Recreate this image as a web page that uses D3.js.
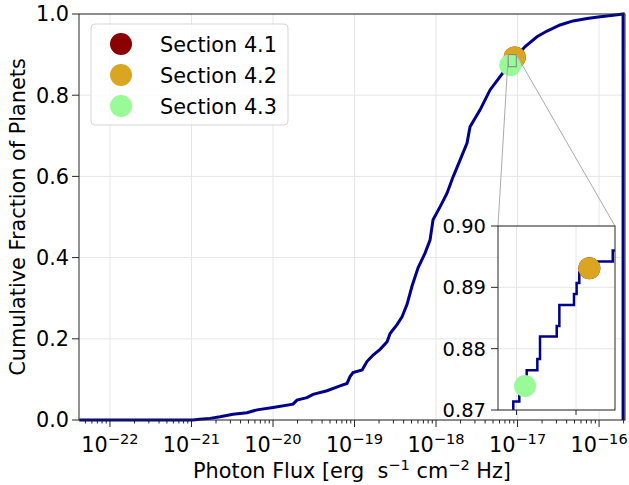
<!DOCTYPE html>
<html>
<head>
<meta charset="utf-8">
<script src="https://cdn.jsdelivr.net/npm/d3@7"></script>
<style>
  body { margin: 0; background: #fff; }
  svg { display: block; font-family: "DejaVu Sans", sans-serif; }
  .grid line { stroke: #e6e6e6; stroke-width: 1; }
  .spine { fill: none; stroke: #262626; stroke-width: 1; }
  .tick-mark { stroke: #262626; stroke-width: 1; }
</style>
</head>
<body>
<div id="chart"></div>
<script>
// cumulative distribution (flux, fraction)
const cdfFlux = [4.2e-23, 1.04e-21, 1.27e-21, 1.69e-21, 2.24e-21, 3.23e-21, 4.80e-21, 6.37e-21,
  1.0e-20, 1.76e-20, 1.97e-20, 2.61e-20, 3.10e-20, 4.60e-20, 6.64e-20, 8.09e-20, 8.81e-20, 9.59e-20,
  1.24e-19, 1.42e-19, 1.69e-19, 2.06e-19, 2.51e-19, 2.73e-19, 3.32e-19, 3.83e-19, 4.41e-19, 5.08e-19,
  6.02e-19, 7.33e-19, 8.44e-19, 9.19e-19, 1.12e-18, 1.36e-18, 1.62e-18, 1.97e-18, 2.40e-18, 2.61e-18,
  3.01e-18, 3.47e-18, 4.60e-18, 6.10e-18, 7.03e-18,
  1.24e-17, 1.73e-17, 2.30e-17, 3.32e-17, 4.80e-17, 7.13e-17, 1.03e-16, 1.49e-16, 1.97e-16, 1.97e-16];
const cdfFrac = [0, 0, 0.002, 0.004, 0.008, 0.014, 0.018, 0.025,
  0.031, 0.039, 0.049, 0.055, 0.063, 0.072, 0.084, 0.090, 0.107, 0.117,
  0.123, 0.144, 0.160, 0.174, 0.193, 0.213, 0.235, 0.254, 0.285, 0.330,
  0.375, 0.411, 0.443, 0.493, 0.525, 0.558, 0.599, 0.640, 0.682, 0.722,
  0.743, 0.764, 0.813, 0.846, 0.862,
  0.920, 0.944, 0.958, 0.973, 0.983, 0.989, 0.993, 0.997, 1.0, 0];

// steps inside the zoomed window
const zoomFlux = [7.60e-18, 7.946e-18, 8.047e-18, 8.10e-18, 8.171e-18, 8.35e-18, 8.395e-18, 8.676e-18,
  8.72e-18, 8.966e-18, 9.01e-18, 9.055e-18, 9.22e-18, 9.617e-18, 9.70e-18];
const zoomFrac = [0.8697, 0.8714, 0.8731, 0.8748, 0.8765, 0.8783, 0.8820, 0.8837,
  0.8871, 0.8889, 0.8907, 0.8924, 0.8942, 0.8960, 0.8960];

const sections = ['Section 4.1', 'Section 4.2', 'Section 4.3'];
const sectionFlux = [9.224e-18, 9.224e-18, 8.143e-18];
const sectionFrac = [0.8931, 0.8931, 0.8739];

const xTickExp = [-22, -21, -20, -19, -18, -17, -16];
const yTicks = [0, 0.2, 0.4, 0.6, 0.8, 1.0];
const zoomXTicks = [8e-18, 9e-18];
const zoomYTicks = [0.87, 0.88, 0.89, 0.90];

const colors = ['#8b0000', '#daa520', '#98fb98'];
const lineColor = '#00008b';

const W = 629, H = 485;
const plot = {left: 79, right: 625, top: 14, bottom: 420};
const inset = {left: 498, right: 615, top: 226, bottom: 410};
const xDomain = [4.17e-23, 2.08e-16];
const zoomXDomain = [7.689e-18, 9.655e-18];
const zoomYDomain = [0.87, 0.90];

const svg = d3.select('#chart').append('svg')
    .attr('width', W)
    .attr('height', H);

let x = d3.scaleLog().domain(xDomain).range([plot.left, plot.right]);
let y = d3.scaleLinear().domain([0, 1]).range([plot.bottom, plot.top]);

// grid
let grid = svg.append('g').attr('class', 'grid');
grid.selectAll('.gx').data(xTickExp).enter().append('line')
    .attr('x1', d => x(Math.pow(10, d))).attr('x2', d => x(Math.pow(10, d)))
    .attr('y1', plot.top).attr('y2', plot.bottom);
grid.selectAll('.gy').data(yTicks).enter().append('line')
    .attr('x1', plot.left).attr('x2', plot.right)
    .attr('y1', d => y(d)).attr('y2', d => y(d));

// x ticks (major + minor)
let minor = [];
for (let e = -23; e <= -16; e++) {
  for (let m = 2; m <= 9; m++) {
    let v = m * Math.pow(10, e);
    if (v > xDomain[0] && v < xDomain[1]) minor.push(v);
  }
}
let axes = svg.append('g');
axes.selectAll('.minor').data(minor).enter().append('line')
    .attr('class', 'tick-mark')
    .attr('stroke-width', 0.8)
    .attr('x1', d => x(d)).attr('x2', d => x(d))
    .attr('y1', plot.bottom).attr('y2', plot.bottom + 3.5);
axes.selectAll('.major').data(xTickExp).enter().append('line')
    .attr('class', 'tick-mark')
    .attr('x1', d => x(Math.pow(10, d))).attr('x2', d => x(Math.pow(10, d)))
    .attr('y1', plot.bottom).attr('y2', plot.bottom + 7);

let xLabels = axes.selectAll('.xl').data(xTickExp).enter().append('text')
    .attr('x', d => x(Math.pow(10, d)))
    .attr('y', 452)
    .attr('text-anchor', 'middle')
    .style('font-size', '20.8px');
xLabels.append('tspan').text('10');
xLabels.append('tspan').attr('dy', -8).style('font-size', '14.6px')
    .text(d => '\u2212' + Math.abs(d));

axes.selectAll('.ytm').data(yTicks).enter().append('line')
    .attr('class', 'tick-mark')
    .attr('x1', plot.left - 7).attr('x2', plot.left)
    .attr('y1', d => y(d)).attr('y2', d => y(d));
axes.selectAll('.yl').data(yTicks).enter().append('text')
    .attr('x', plot.left - 10)
    .attr('y', d => y(d))
    .attr('dy', '0.36em')
    .attr('text-anchor', 'end')
    .style('font-size', '20.8px')
    .text(d => d.toFixed(1));

// axis titles
let xTitle = svg.append('text')
    .attr('x', (plot.left + plot.right) / 2)
    .attr('y', 478)
    .attr('text-anchor', 'middle')
    .style('font-size', '20.8px')
    .style('white-space', 'pre');
xTitle.append('tspan').text('Photon Flux [erg  s');
xTitle.append('tspan').attr('dy', -8).style('font-size', '14.6px').text('\u22121');
xTitle.append('tspan').attr('dy', 8).text(' cm');
xTitle.append('tspan').attr('dy', -8).style('font-size', '14.6px').text('\u22122');
xTitle.append('tspan').attr('dy', 8).text(' Hz]');

svg.append('text')
    .attr('transform', 'translate(25,' + ((plot.top + plot.bottom) / 2) + ') rotate(-90)')
    .attr('text-anchor', 'middle')
    .style('font-size', '20.8px')
    .text('Cumulative Fraction of Planets');

// main curve
let pts = [];
for (let i = 0; i < cdfFlux.length; i++) pts.push([cdfFlux[i], cdfFrac[i]]);
let stepPts = [];
for (let i = 0; i < zoomFlux.length; i++) {
  if (i > 0) stepPts.push([zoomFlux[i], zoomFrac[i - 1]]);
  stepPts.push([zoomFlux[i], zoomFrac[i]]);
}
let cut = pts.findIndex(p => p[0] > zoomFlux[0]);
let mainPts = pts.slice(0, cut).concat(stepPts, pts.slice(cut));

let line = d3.line()
    .x(d => x(d[0]))
    .y(d => y(d[1]));

svg.append('path')
    .datum(mainPts)
    .attr('fill', 'none')
    .attr('stroke', lineColor)
    .attr('stroke-width', 3)
    .attr('stroke-linejoin', 'miter')
    .attr('d', line);

// section points
let marks = sections.map((s, i) => ({name: s, flux: sectionFlux[i], frac: sectionFrac[i], color: colors[i]}));
svg.selectAll('.pt').data(marks).enter().append('circle')
    .attr('cx', d => x(d.flux))
    .attr('cy', d => y(d.frac))
    .attr('r', 11)
    .attr('fill', d => d.color);

// zoom box + connectors
let rx0 = x(zoomXDomain[0]), rx1 = x(zoomXDomain[1]);
let ry0 = y(zoomYDomain[1]), ry1 = y(zoomYDomain[0]);
svg.append('rect')
    .attr('x', rx0).attr('y', ry0)
    .attr('width', rx1 - rx0).attr('height', ry1 - ry0)
    .attr('fill', 'none')
    .attr('stroke', '#808080')
    .attr('stroke-width', 1);
svg.append('line')
    .attr('x1', rx0).attr('y1', ry0).attr('x2', inset.left).attr('y2', inset.top)
    .attr('stroke', '#aaaaaa').attr('stroke-width', 1);
svg.append('line')
    .attr('x1', rx1).attr('y1', ry0).attr('x2', inset.right).attr('y2', inset.top)
    .attr('stroke', '#aaaaaa').attr('stroke-width', 1);

// main frame
svg.append('rect')
    .attr('class', 'spine')
    .attr('x', plot.left).attr('y', plot.top)
    .attr('width', plot.right - plot.left).attr('height', plot.bottom - plot.top);

// legend
let legend = svg.append('g');
legend.append('rect')
    .attr('x', 91).attr('y', 24)
    .attr('width', 197).attr('height', 101)
    .attr('rx', 4)
    .attr('fill', '#fff').attr('fill-opacity', 0.8)
    .attr('stroke', '#d5d5d5');
let items = legend.selectAll('.item').data(marks).enter().append('g')
    .attr('transform', (d, i) => 'translate(121,' + (44 + i * 31) + ')');
items.append('circle').attr('r', 11).attr('fill', d => d.color);
items.append('text')
    .attr('x', 39)
    .attr('dy', '0.36em')
    .style('font-size', '20.8px')
    .text(d => d.name);

// inset
let xi = d3.scaleLinear().domain(zoomXDomain).range([inset.left, inset.right]);
let yi = d3.scaleLinear().domain(zoomYDomain).range([inset.bottom, inset.top]);

let ig = svg.append('g');
ig.append('rect')
    .attr('x', inset.left).attr('y', inset.top)
    .attr('width', inset.right - inset.left).attr('height', inset.bottom - inset.top)
    .attr('fill', '#fff');
svg.append('clipPath').attr('id', 'insetClip').append('rect')
    .attr('x', inset.left).attr('y', inset.top)
    .attr('width', inset.right - inset.left).attr('height', inset.bottom - inset.top);

let igrid = ig.append('g').attr('class', 'grid');
igrid.selectAll('.gx').data(zoomXTicks).enter().append('line')
    .attr('x1', d => xi(d)).attr('x2', d => xi(d))
    .attr('y1', inset.top).attr('y2', inset.bottom);
igrid.selectAll('.gy').data(zoomYTicks).enter().append('line')
    .attr('x1', inset.left).attr('x2', inset.right)
    .attr('y1', d => yi(d)).attr('y2', d => yi(d));

let zoomPts = zoomFlux.map((f, i) => [f, zoomFrac[i]]);
let stepLine = d3.line()
    .x(d => xi(d[0]))
    .y(d => yi(d[1]))
    .curve(d3.curveStepAfter);
ig.append('path')
    .datum(zoomPts)
    .attr('clip-path', 'url(#insetClip)')
    .attr('fill', 'none')
    .attr('stroke', lineColor)
    .attr('stroke-width', 2.5)
    .attr('d', stepLine);

ig.selectAll('.ipt').data(marks).enter().append('circle')
    .attr('cx', d => xi(d.flux))
    .attr('cy', d => yi(d.frac))
    .attr('r', 11)
    .attr('fill', d => d.color);

ig.append('rect')
    .attr('class', 'spine')
    .attr('x', inset.left).attr('y', inset.top)
    .attr('width', inset.right - inset.left).attr('height', inset.bottom - inset.top);

ig.selectAll('.ixt').data(zoomXTicks).enter().append('line')
    .attr('class', 'tick-mark')
    .attr('x1', d => xi(d)).attr('x2', d => xi(d))
    .attr('y1', inset.bottom).attr('y2', inset.bottom + 5);
ig.selectAll('.iyt').data(zoomYTicks).enter().append('line')
    .attr('class', 'tick-mark')
    .attr('x1', inset.left - 7).attr('x2', inset.left)
    .attr('y1', d => yi(d)).attr('y2', d => yi(d));
ig.selectAll('.iyl').data(zoomYTicks).enter().append('text')
    .attr('x', inset.left - 12)
    .attr('y', d => yi(d))
    .attr('dy', '0.36em')
    .attr('text-anchor', 'end')
    .style('font-size', '19.5px')
    .text(d => d.toFixed(2));
</script>
</body>
</html>
